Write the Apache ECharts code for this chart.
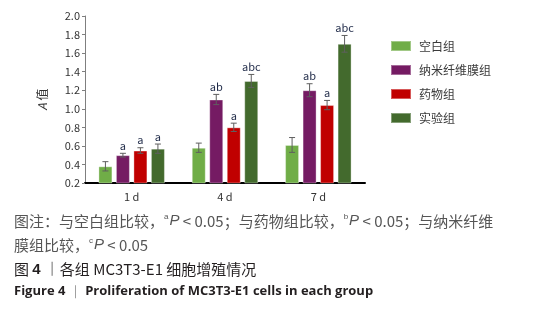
<!DOCTYPE html>
<html><head><meta charset="utf-8">
<script src="https://cdn.jsdelivr.net/npm/echarts@6/dist/echarts.min.js"></script>
<style>html,body{margin:0;padding:0;background:#fff}#c{width:540px;height:310px}</style>
</head><body><div id="c"></div>
<script>
const categories = ['1 d', '4 d', '7 d'];
const seriesNames = ['空白组', '纳米纤维膜组', '药物组', '实验组'];
const blankVals = [0.38, 0.58, 0.61];
const nanoVals = [0.50, 1.10, 1.20];
const drugVals = [0.55, 0.80, 1.04];
const expVals = [0.57, 1.30, 1.70];
const blankErr = [0.05, 0.05, 0.08];
const nanoErr = [0.02, 0.055, 0.07];
const drugErr = [0.03, 0.045, 0.05];
const expErr = [0.05, 0.07, 0.09];
const blankSig = ['', '', ''];
const nanoSig = ['a', 'ab', 'ab'];
const drugSig = ['a', 'a', 'a'];
const expSig = ['a', 'abc', 'abc'];
const yTicks = [0.2, 0.4, 0.6, 0.8, 1.0, 1.2, 1.4, 1.6, 1.8, 2.0];

const colors = ['#70AD47', '#751B63', '#C00000', '#436A2D'];
const vals = [blankVals, nanoVals, drugVals, expVals];
const errs = [blankErr, nanoErr, drugErr, expErr];
const sigs = [blankSig, nanoSig, drugSig, expSig];
const BW = 14, GAP = 3.5;
const font = '"Noto Sans CJK SC", "Noto Sans", sans-serif';

const chart = echarts.init(document.getElementById('c'), null, {renderer: 'canvas'});
const series = [];
vals.forEach((v, i) => {
  series.push({
    name: seriesNames[i], type: 'bar', data: v, barWidth: BW, barGap: (GAP / BW * 100) + '%',
    itemStyle: {color: colors[i], borderColor: 'rgba(255,255,255,0.35)', borderWidth: 1},
    z: 2
  });
});
vals.forEach((v, i) => {
  series.push({
    type: 'custom', name: seriesNames[i] + '_err', z: 5, silent: true,
    data: v.map((val, j) => [j, val, errs[i][j], sigs[i][j]]),
    renderItem: function (params, api) {
      const j = api.value(0), val = api.value(1), e = api.value(2);
      const sig = sigs[i][j];
      const total = 4 * BW + 3 * GAP;
      const c = api.coord([j, val]);
      const x = c[0] - total / 2 + i * (BW + GAP) + BW / 2;
      const yt = api.coord([j, val + e])[1];
      const yb = api.coord([j, val - e])[1];
      const cap = 3;
      const st = {stroke: '#5f5f5f', lineWidth: 1};
      const children = [
        {type: 'line', shape: {x1: x, y1: yt, x2: x, y2: yb}, style: st},
        {type: 'line', shape: {x1: x - cap, y1: yt, x2: x + cap, y2: yt}, style: st},
        {type: 'line', shape: {x1: x - cap, y1: yb, x2: x + cap, y2: yb}, style: st}
      ];
      if (sig) {
        children.push({type: 'text', style: {text: sig, x: x, y: yt - 2, align: 'center', verticalAlign: 'bottom',
          fill: '#1f2a48', font: '11px ' + font}});
      }
      return {type: 'group', children: children};
    }
  });
});

const FS = 15;
const capRich = {
  s: {fontSize: 8, verticalAlign: 'top', padding: [0, 1, 8, 0], fill: '#555'},
  i: {fontStyle: 'italic', fontSize: FS, fill: '#555'}
};

chart.setOption({
  animation: false,
  grid: {left: 85, right: 175, top: 16, bottom: 127},
  legend: {
    data: seriesNames, orient: 'vertical', left: 385, top: 35, itemWidth: 20, itemHeight: 10, itemGap: 12,
    icon: 'rect', textStyle: {fontSize: 12, color: '#3a3a3a', fontFamily: font, padding: [0, 0, 0, 3]}
  },
  xAxis: {
    type: 'category', data: categories,
    axisLine: {lineStyle: {color: '#000', width: 2}},
    axisTick: {show: false},
    axisLabel: {fontSize: 11, color: '#333', margin: 8, fontFamily: font}
  },
  yAxis: {
    type: 'value', min: 0.2, max: 2.0, interval: 0.2,
    name: '{i|A} 值', nameLocation: 'middle', nameGap: 37, nameRotate: 90,
    nameTextStyle: {fontSize: 12, color: '#333', fontFamily: font, rich: {i: {fontStyle: 'italic', fontSize: 12, color: '#333'}}},
    axisLine: {show: true, lineStyle: {color: '#7f7f7f', width: 1}},
    axisTick: {show: true, length: 3, inside: false, lineStyle: {color: '#7f7f7f'}},
    splitLine: {show: false},
    axisLabel: {fontSize: 11, color: '#333', margin: 5, fontFamily: font,
      formatter: function (v) { const t = yTicks.find(k => Math.abs(k - v) < 1e-6); return (t !== undefined ? t : v).toFixed(1); }}
  },
  graphic: [
    {type: 'text', left: 14, top: 213, style: {
      text: '图注：与空白组比较，{s|a}{i|P} < 0.05；与药物组比较，{s|b}{i|P} < 0.05；与纳米纤维',
      font: FS + 'px ' + font, fill: '#555', rich: capRich
    }},
    {type: 'text', left: 14, top: 237, style: {
      text: '膜组比较，{s|c}{i|P} < 0.05',
      font: FS + 'px ' + font, fill: '#555', rich: capRich
    }},
    {type: 'text', left: 14, top: 262, style: {
      text: '图 {b|4}{g|\u00a0丨}各组 MC3T3-E1 细胞增殖情况',
      font: FS + 'px ' + font, fill: '#231f20',
      rich: {b: {fontWeight: 'bold', fontSize: FS, fill: '#231f20'}, g: {fill: '#888', fontSize: FS}}
    }},
    {type: 'text', left: 14, top: 285, style: {
      text: 'Figure 4 {g|｜} Proliferation of MC3T3-E1 cells in each group',
      font: 'bold 13px "Open Sans", sans-serif', fill: '#231f20',
      rich: {g: {fill: '#888', fontWeight: 'normal', fontSize: 13}}
    }}
  ],
  series: series
});
</script></body></html>
